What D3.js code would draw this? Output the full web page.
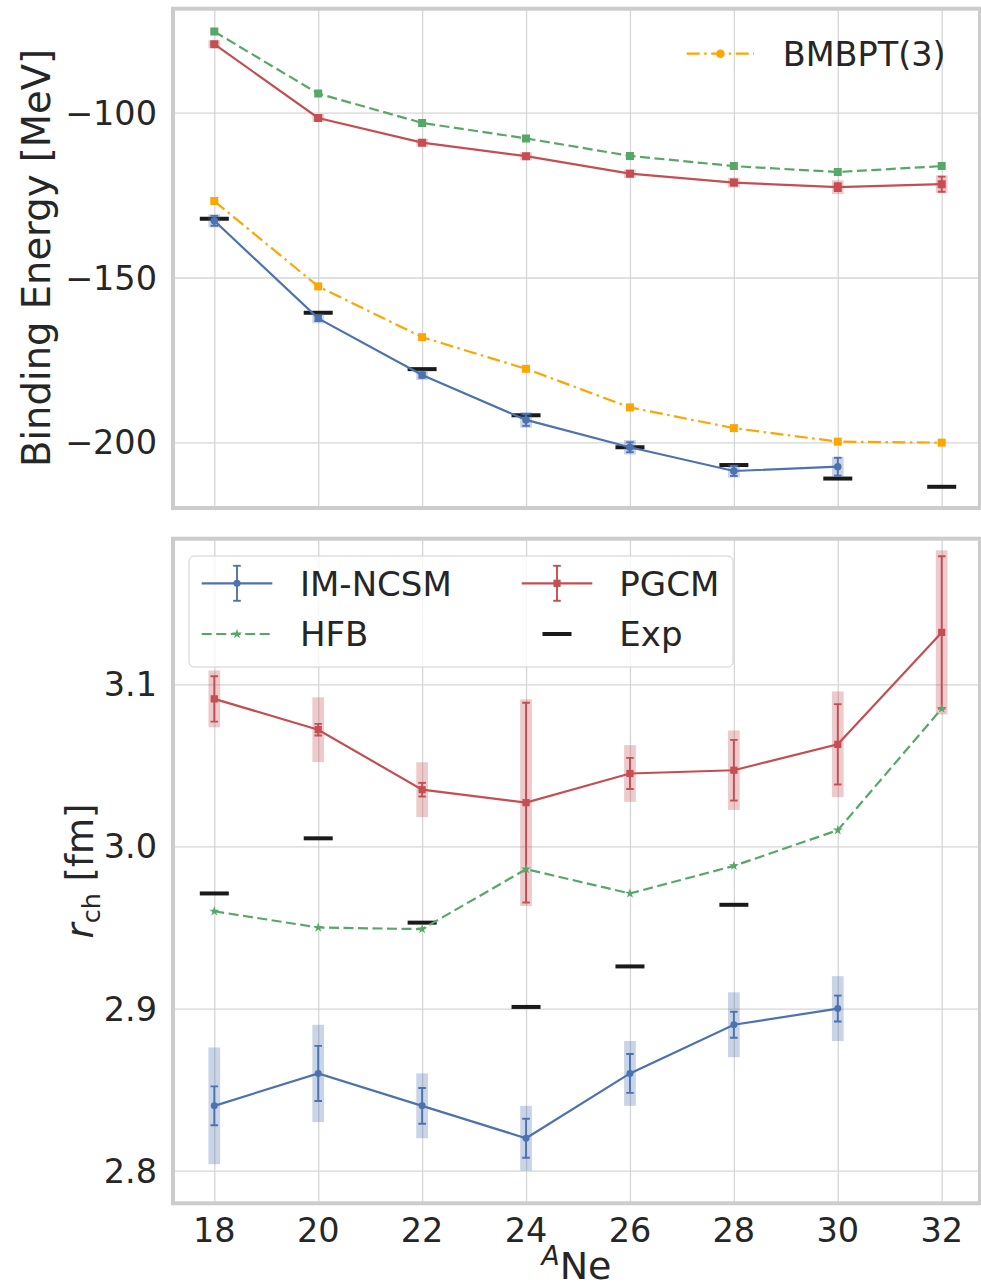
<!DOCTYPE html>
<html><head><meta charset="utf-8">
<script src="https://cdn.jsdelivr.net/npm/d3@7"></script>
<style>
body{margin:0;background:#fff}
text{font-family:"DejaVu Sans",sans-serif;fill:#262626}
</style>
</head><body><svg id="c" width="981" height="1285"></svg>
<script>
// ---------- data ----------
const isotopes=[18,20,22,24,26,28,30,32];
const yTicksBE=[-100,-150,-200];
const yTicksR=[2.8,2.9,3.0,3.1];
// Binding energies (MeV)
const beImNcsm=[-132.8,-162.4,-179.6,-193.2,-201.5,-208.7,-207.4];
const beImNcsmErr=[1.5,0.8,0.8,1.8,1.5,1.5,2.7];
const beImNcsmBand=[2.0,1.5,1.5,2.4,2.2,2.0,3.0];
const bePgcm=[-79.2,-101.6,-109.1,-113.2,-118.5,-121.2,-122.6,-121.7];
const bePgcmErr=[0.3,0.3,0.3,0.3,0.5,0.8,1.2,2.3];
const bePgcmBand=[1.2,1.2,1.2,1.2,1.3,1.5,2.1,2.7];
const beHfb=[-75.4,-94.2,-103.1,-107.8,-113.1,-116.2,-118.0,-116.2];
const beBmbpt=[-126.8,-152.7,-168.1,-177.7,-189.4,-195.7,-199.8,-200.1];
const beExp=[-132.2,-160.7,-177.8,-191.8,-201.5,-206.9,-211.0,-213.5];
// Charge radii (fm)
const rImNcsm=[2.840,2.860,2.840,2.820,2.860,2.890,2.900];
const rImNcsmErr=[0.012,0.017,0.011,0.012,0.012,0.008,0.008];
const rImNcsmBand=[0.036,0.030,0.020,0.020,0.020,0.020,0.020];
const rPgcm=[3.091,3.072,3.035,3.027,3.045,3.047,3.063,3.132];
const rPgcmErr=[0.014,0.0036,0.0042,0.0616,0.0096,0.0187,0.0248,0.047];
const rPgcmBand=[0.0175,0.020,0.0169,0.0637,0.0175,0.0245,0.0326,0.0506];
const rHfb=[2.960,2.950,2.949,2.986,2.971,2.988,3.010,3.085];
const rExp=[2.971,3.005,2.953,2.901,2.926,2.964];

const C={im:'#4C72B0',pg:'#C44E52',hfb:'#55A868',bm:'#FFA500',exp:'#1a1a1a'};

// ---------- layout ----------
const svg=d3.select('#c');
const FS=33.5, LFS=38.5;
const frameL=173, frameR=980;
const pTop={y0:8.7,y1:508};
const pBot={y0:538.7,y1:1203.3};
const x=d3.scaleLinear().domain([18,32]).range([214.3,941.7]);
const yT=d3.scaleLinear().domain([-100,-200]).range([112.7,442.3]);
const yB=d3.scaleLinear().domain([2.8,3.1]).range([1170.7,684.3]);

function panel(p,y,ticks,fmt,id){
  const g=svg.append('g');
  svg.append('clipPath').attr('id',id).append('rect')
    .attr('x',frameL).attr('y',p.y0).attr('width',frameR-frameL).attr('height',p.y1-p.y0);
  const gx=g.append('g').attr('transform',`translate(0,${p.y1})`)
    .call(d3.axisBottom(x).tickValues(isotopes).tickSize(-(p.y1-p.y0)).tickFormat(''));
  const gy=g.append('g').attr('transform',`translate(${frameL},0)`)
    .call(d3.axisLeft(y).tickValues(ticks).tickSize(-(frameR-frameL)).tickFormat(''));
  [gx,gy].forEach(a=>{a.select('.domain').remove();a.selectAll('line').attr('stroke','#d6d6d6').attr('stroke-width',1.3);});
  g.selectAll('.yl').data(ticks).enter().append('text')
    .attr('x',157).attr('y',d=>y(d)).attr('dy','0.36em').attr('text-anchor','end')
    .attr('font-size',FS).text(fmt);
  return svg.append('g').attr('clip-path',`url(#${id})`);
}
function frame(p){
  svg.append('rect').attr('x',frameL).attr('y',p.y0).attr('width',frameR-frameL).attr('height',p.y1-p.y0)
    .attr('fill','none').attr('stroke','#cccccc').attr('stroke-width',4);
}
function sym(type,size){return d3.symbol().type(type).size(size)();}
function drawLine(g,y,vals,color,dash){
  const data=vals.map((v,i)=>[isotopes[i],v]);
  g.append('path').datum(data).attr('fill','none').attr('stroke',color).attr('stroke-width',2.2)
    .attr('stroke-dasharray',dash||null)
    .attr('d',d3.line().x(d=>x(d[0])).y(d=>y(d[1])));
}
function drawBands(g,y,vals,bands,color){
  g.selectAll(null).data(vals.map((v,i)=>({x:isotopes[i],v,b:bands[i]}))).enter().append('rect')
    .attr('x',d=>x(d.x)-5.85).attr('width',11.7)
    .attr('y',d=>y(d.v+d.b)).attr('height',d=>y(d.v-d.b)-y(d.v+d.b))
    .attr('fill',color).attr('fill-opacity',0.3);
}
function drawErr(g,y,vals,errs,color){
  const d=vals.map((v,i)=>({x:isotopes[i],v,e:errs[i]}));
  const s=g.selectAll(null).data(d).enter().append('g').attr('stroke',color).attr('stroke-width',1.9);
  s.append('line').attr('x1',d=>x(d.x)).attr('x2',d=>x(d.x)).attr('y1',d=>y(d.v-d.e)).attr('y2',d=>y(d.v+d.e));
  s.append('line').attr('x1',d=>x(d.x)-3.8).attr('x2',d=>x(d.x)+3.8).attr('y1',d=>y(d.v-d.e)).attr('y2',d=>y(d.v-d.e));
  s.append('line').attr('x1',d=>x(d.x)-3.8).attr('x2',d=>x(d.x)+3.8).attr('y1',d=>y(d.v+d.e)).attr('y2',d=>y(d.v+d.e));
}
function drawMarkers(g,y,vals,color,type,size){
  g.selectAll(null).data(vals.map((v,i)=>[isotopes[i],v])).enter().append('path')
    .attr('transform',d=>`translate(${x(d[0])},${y(d[1])})`)
    .attr('d',sym(type,size)).attr('fill',color);
}
function drawExp(g,y,vals){
  g.selectAll(null).data(vals.map((v,i)=>[isotopes[i],v])).enter().append('line')
    .attr('x1',d=>x(d[0])-14.5).attr('x2',d=>x(d[0])+14.5)
    .attr('y1',d=>y(d[1])).attr('y2',d=>y(d[1]))
    .attr('stroke',C.exp).attr('stroke-width',4);
}

// ---------- top panel ----------
const fmtMinus=d=>String(d).replace('-','\u2212');
const gT=panel(pTop,yT,yTicksBE,fmtMinus,'clipT');
drawExp(gT,yT,beExp);
drawBands(gT,yT,beImNcsm,beImNcsmBand,C.im);
drawLine(gT,yT,beImNcsm,C.im);
drawErr(gT,yT,beImNcsm,beImNcsmErr,C.im);
drawMarkers(gT,yT,beImNcsm,C.im,d3.symbolCircle,44);
drawBands(gT,yT,bePgcm,bePgcmBand,C.pg);
drawLine(gT,yT,bePgcm,C.pg);
drawErr(gT,yT,bePgcm,bePgcmErr,C.pg);
drawMarkers(gT,yT,bePgcm,C.pg,d3.symbolSquare,64);
drawLine(gT,yT,beHfb,C.hfb,'10,4.5');
drawMarkers(gT,yT,beHfb,C.hfb,d3.symbolSquare,64);
drawLine(gT,yT,beBmbpt,C.bm,'13,4.5,2.5,4.5');
drawMarkers(gT,yT,beBmbpt,C.bm,d3.symbolSquare,64);
frame(pTop);

const lt=svg.append('g');
lt.append('line').attr('x1',686.7).attr('x2',754).attr('y1',53.7).attr('y2',53.7)
  .attr('stroke',C.bm).attr('stroke-width',2.2).attr('stroke-dasharray','13,4.5,2.5,4.5');
lt.append('circle').attr('cx',720.4).attr('cy',53.7).attr('r',4.3).attr('fill',C.bm);
lt.append('text').attr('x',782.7).attr('y',53.7).attr('dy','0.36em').attr('font-size',33.5).text('BMBPT(3)');

svg.append('text').attr('transform','translate(50,258) rotate(-90)').attr('text-anchor','middle')
  .attr('font-size',LFS).text('Binding Energy [MeV]');

// ---------- bottom panel ----------
const gB=panel(pBot,yB,yTicksR,d=>d.toFixed(1),'clipB');
drawExp(gB,yB,rExp);
drawBands(gB,yB,rImNcsm,rImNcsmBand,C.im);
drawLine(gB,yB,rImNcsm,C.im);
drawErr(gB,yB,rImNcsm,rImNcsmErr,C.im);
drawMarkers(gB,yB,rImNcsm,C.im,d3.symbolCircle,38);
drawBands(gB,yB,rPgcm,rPgcmBand,C.pg);
drawLine(gB,yB,rPgcm,C.pg);
drawErr(gB,yB,rPgcm,rPgcmErr,C.pg);
drawMarkers(gB,yB,rPgcm,C.pg,d3.symbolSquare,52);
drawLine(gB,yB,rHfb,C.hfb,'10,4.5');
drawMarkers(gB,yB,rHfb,C.hfb,d3.symbolStar,30);
frame(pBot);

svg.selectAll('.xl').data(isotopes).enter().append('text')
  .attr('x',d=>x(d)).attr('y',1241.7).attr('text-anchor','middle').attr('font-size',FS).text(d=>d);
const xl=svg.append('text').attr('x',576.5).attr('y',1279).attr('text-anchor','middle').attr('font-size',38);
xl.append('tspan').attr('font-style','italic').attr('font-size',26.6).attr('dy',-14).text('A');
xl.append('tspan').attr('dy',14).text('Ne');
const yl=svg.append('text').attr('transform','translate(93,871) rotate(-90)').attr('text-anchor','middle').attr('font-size',37);
yl.append('tspan').attr('font-style','italic').text('r');
yl.append('tspan').attr('font-size',25.5).attr('dy',6.5).text('ch');
yl.append('tspan').attr('dy',-6.5).text('\u00a0[fm]');

const lg=svg.append('g');
lg.append('rect').attr('x',189).attr('y',556).attr('width',544).attr('height',111).attr('rx',5)
  .attr('fill','#fff').attr('fill-opacity',0.8).attr('stroke','#d0d0d0').attr('stroke-width',1);
function legErr(cx,cy,color,type,size){
  lg.append('line').attr('x1',cx-35.3).attr('x2',cx+35.3).attr('y1',cy).attr('y2',cy).attr('stroke',color).attr('stroke-width',2.2);
  const e=lg.append('g').attr('stroke',color).attr('stroke-width',1.9);
  e.append('line').attr('x1',cx).attr('x2',cx).attr('y1',cy-17.5).attr('y2',cy+17.5);
  e.append('line').attr('x1',cx-3.8).attr('x2',cx+3.8).attr('y1',cy-17.5).attr('y2',cy-17.5);
  e.append('line').attr('x1',cx-3.8).attr('x2',cx+3.8).attr('y1',cy+17.5).attr('y2',cy+17.5);
  lg.append('path').attr('transform',`translate(${cx},${cy})`).attr('d',sym(type,size)).attr('fill',color);
}
legErr(237,583.3,C.im,d3.symbolCircle,40);
legErr(557,583.3,C.pg,d3.symbolSquare,52);
lg.append('line').attr('x1',201.7).attr('x2',272.3).attr('y1',634).attr('y2',634)
  .attr('stroke',C.hfb).attr('stroke-width',2.2).attr('stroke-dasharray','10,4.5');
lg.append('path').attr('transform','translate(237,634)').attr('d',sym(d3.symbolStar,30)).attr('fill',C.hfb);
lg.append('line').attr('x1',542.5).attr('x2',571.5).attr('y1',634).attr('y2',634).attr('stroke',C.exp).attr('stroke-width',4);
[['IM-NCSM',300,583.3],['PGCM',619.3,583.3],['HFB',300,634],['Exp',619.3,634]].forEach(t=>{
  lg.append('text').attr('x',t[1]).attr('y',t[2]).attr('dy','0.36em').attr('font-size',34).text(t[0]);
});
</script>
</body></html>
